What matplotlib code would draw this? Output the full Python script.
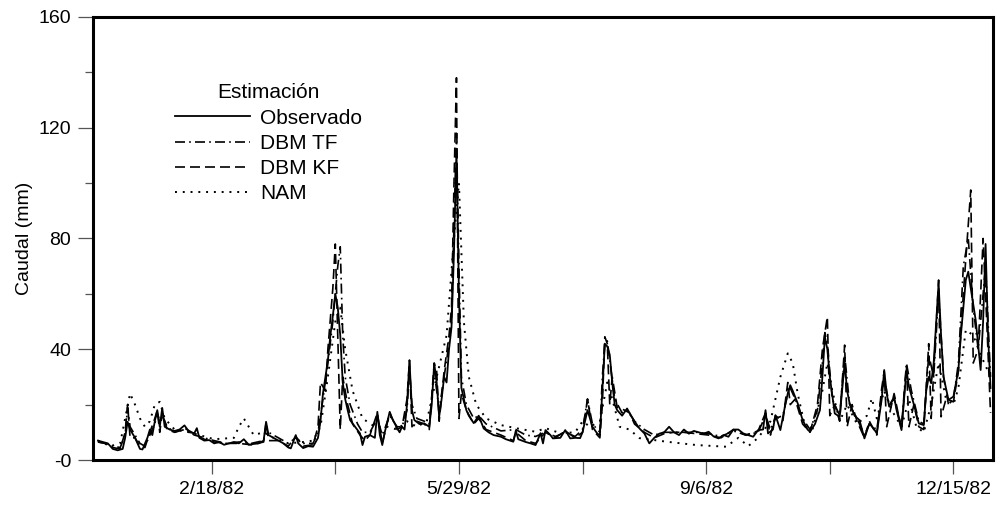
import matplotlib
matplotlib.use("Agg")
import matplotlib.pyplot as plt
import numpy as np
import pandas as pd

plt.rcParams['font.family'] = ['Liberation Sans', 'DejaVu Sans']

# daily discharge (mm), pairs of (day of year 1982, value)
observado = np.array([
    [3, 7], [5, 6.5], [7, 6], [9, 4], [11, 3.5], [13, 4], [14, 8], [15, 13.8], [16, 11], [18, 8],
    [20, 4], [21, 3.8], [23, 8], [24, 11], [25, 9], [26, 14], [27, 18], [28, 12], [29, 18.8], [30, 12],
    [32, 11], [34, 10.5], [36, 11], [38, 12.5], [40, 10], [42, 9.7], [43, 11.5], [44, 8], [46, 7], [48, 7.2],
    [50, 6], [52, 6.5], [54, 5.5], [56, 6], [58, 6.5], [60, 6], [62, 7.5], [64, 5.5], [66, 5.8], [68, 6],
    [70, 7], [71, 13.8], [72, 9], [74, 8], [76, 7], [78, 6], [80, 4.5], [81, 4.2], [83, 9], [84, 6],
    [86, 4.3], [88, 5], [90, 4.8], [92, 8], [93, 14], [94, 24], [95, 30], [96, 36], [97, 45], [98, 52],
    [99, 60], [100, 55], [101, 45], [102, 28], [103, 22], [104, 18], [105, 14.4], [107, 12], [109, 9.6], [110, 5.4],
    [111, 8.4], [113, 9], [115, 8], [116, 17.4], [117, 9], [118, 5.4], [119, 10], [121, 17.4], [122, 15], [124, 11.5],
    [125, 10], [126, 12], [127, 11], [128, 20], [129, 36], [130, 18], [131, 14.4], [133, 13], [135, 13.2], [137, 12],
    [138, 20], [139, 34.9], [140, 28], [141, 15.6], [142, 22], [143, 30], [144, 28], [145, 40], [146, 48], [147, 75],
    [148, 112], [149, 60], [150, 26], [151, 22], [152, 18], [153, 16], [155, 13.3], [157, 16], [159, 11.4], [161, 10],
    [163, 9], [166, 8.4], [168, 7.5], [171, 6.6], [172, 10.6], [173, 7.5], [176, 6.5], [178, 6], [180, 5.4], [182, 9.7],
    [183, 6], [184, 10.8], [186, 9], [187, 7.8], [190, 8], [192, 10.8], [194, 7.8], [196, 8], [198, 7.9], [199, 10],
    [201, 18], [202, 15], [203, 12], [205, 9.5], [206, 9], [207, 25], [208, 42], [209, 41], [210, 38], [211, 28],
    [212, 20], [213, 18], [215, 16], [217, 18.6], [218, 17], [220, 14], [222, 11.4], [224, 9.6], [226, 6], [228, 8],
    [230, 9.5], [232, 10], [234, 12], [236, 10], [238, 9], [240, 11], [242, 9.5], [244, 10.5], [246, 10], [248, 9.5],
    [250, 10.2], [252, 8.5], [254, 7.8], [256, 9], [258, 8.4], [260, 11], [262, 11], [264, 9.6], [266, 9], [268, 8.4],
    [270, 10.8], [272, 11], [273, 18], [274, 9.6], [276, 11], [277, 16.2], [279, 10.8], [281, 20], [282, 24], [283, 27],
    [284, 25], [286, 20.5], [288, 14.4], [290, 11], [291, 10.2], [293, 13], [295, 18], [296, 30], [297, 44.5], [298, 40],
    [299, 30], [301, 16.8], [303, 15.6], [305, 35], [306, 25], [307, 20.5], [309, 16], [311, 14.4], [313, 7.8], [315, 13.2],
    [317, 11], [318, 9.6], [320, 22], [321, 32.5], [322, 24], [323, 19.3], [325, 22.9], [326, 18], [328, 10.8], [330, 32.5],
    [331, 26.5], [333, 20], [335, 13.2], [337, 12.6], [338, 25], [339, 30], [340, 27.7], [341, 35], [343, 63.8], [344, 45],
    [345, 30], [347, 21.7], [349, 22.9], [351, 32.5], [352, 45], [354, 65], [355, 68], [356, 62], [358, 50.5], [360, 32.5],
    [361, 50], [362, 78], [363, 45], [364, 26],
])

dbm_tf = np.array([
    [3, 6.5], [6, 6], [9, 5], [12, 4.5], [14, 9], [15, 19], [16, 12], [18, 9], [20, 6], [22, 5],
    [24, 9], [26, 13], [27, 17], [28, 14], [29, 16], [31, 12], [34, 10], [38, 11], [42, 9], [46, 8],
    [50, 7], [55, 6], [60, 6.5], [65, 6], [70, 7], [71, 12], [72, 10], [76, 8], [80, 6], [83, 8],
    [86, 6], [90, 6], [92, 10], [94, 22], [96, 35], [98, 50], [99, 60], [100, 70], [101, 77], [102, 45],
    [103, 30], [105, 20], [108, 13], [110, 10], [113, 10], [116, 15], [118, 9], [121, 16], [124, 12], [126, 12],
    [128, 18], [129, 33], [130, 20], [132, 15], [135, 14], [137, 13], [139, 32], [141, 18], [143, 30], [145, 42],
    [146, 50], [147, 85], [148, 118], [149, 70], [150, 30], [152, 20], [155, 15], [157, 16], [160, 13], [166, 10.5],
    [172, 11], [176, 9], [180, 8.5], [184, 10], [188, 8.5], [192, 10], [196, 8.5], [199, 11], [201, 22], [203, 13],
    [206, 10], [207, 30], [208, 42], [209, 43], [210, 36], [212, 22], [215, 17], [217, 18], [220, 14], [224, 11],
    [228, 9], [232, 10], [236, 10], [240, 10], [245, 10], [250, 9.5], [255, 8.5], [260, 10.5], [265, 9], [270, 10],
    [273, 16], [275, 11], [277, 15], [280, 16], [282, 24], [283, 26], [285, 22], [288, 15], [291, 11], [294, 18],
    [296, 35], [297, 46], [298, 42], [300, 22], [303, 16], [305, 38], [307, 20], [310, 15], [313, 9], [315, 13],
    [318, 11], [321, 30], [323, 20], [325, 22], [328, 12], [330, 35], [332, 25], [335, 14], [337, 13], [339, 38],
    [341, 30], [343, 60], [345, 30], [347, 20], [349, 22], [351, 35], [353, 70], [355, 80], [357, 55], [359, 40],
    [361, 60], [362, 70], [364, 30],
])

dbm_kf = np.array([
    [3, 6.5], [6, 6], [9, 4.5], [12, 4], [14, 10], [15, 20], [16, 8], [18, 8], [20, 5], [22, 4.5],
    [24, 10], [26, 15], [27, 18], [28, 10], [29, 17], [31, 11], [34, 10], [38, 11.5], [42, 9.5], [46, 7.5],
    [50, 6.5], [55, 6], [60, 6], [65, 5.5], [70, 6.5], [71, 13.5], [72, 7], [76, 7], [80, 5], [83, 8.5],
    [86, 5], [90, 5.5], [92, 12], [93, 28], [95, 25], [96, 40], [98, 62], [99, 78], [100, 45], [101, 11],
    [102, 30], [104, 20], [106, 13], [109, 9], [111, 7], [113, 9], [116, 17], [118, 6], [121, 17], [124, 11],
    [126, 12], [128, 22], [129, 36], [130, 12], [132, 14], [135, 13], [137, 11], [139, 35], [140, 32], [141, 14],
    [143, 32], [145, 45], [146, 55], [147, 100], [148, 138], [149, 15], [150, 24], [152, 18], [155, 13], [157, 15],
    [160, 11], [166, 9], [171, 7], [172, 10], [176, 7], [180, 6], [184, 10], [188, 8], [192, 10.5], [196, 8],
    [199, 10], [201, 22], [203, 11], [206, 8], [207, 20], [208, 44.5], [209, 42], [210, 20], [211, 30], [213, 19],
    [216, 18], [218, 17], [220, 13], [224, 10], [228, 8], [232, 9.5], [236, 10], [240, 10], [245, 9.5], [250, 9],
    [255, 8], [260, 11], [265, 9], [270, 10.5], [273, 17], [275, 9], [277, 16], [280, 14], [282, 28], [283, 20],
    [285, 22], [288, 13], [291, 10], [294, 20], [296, 40], [298, 51.7], [299, 16], [301, 20], [303, 14], [305, 41.5],
    [306, 12], [308, 20], [310, 14], [313, 8], [315, 14], [318, 9], [320, 26], [321, 32], [322, 12], [325, 24],
    [328, 11], [330, 34], [331, 12], [333, 20], [335, 12], [337, 11], [339, 42], [340, 15], [343, 65], [344, 15.6],
    [346, 22], [349, 21], [351, 32], [353, 60], [355, 85], [356, 97.5], [357, 35], [359, 40], [361, 80], [362, 60],
    [364, 17],
])

nam = np.array([
    [3, 7], [8, 5], [12, 6], [14, 15], [16, 24], [18, 20], [20, 15], [22, 12], [24, 14], [26, 20],
    [28, 21], [30, 15], [34, 11], [40, 10], [50, 7.5], [58, 8], [60, 12], [62, 15], [64, 12], [66, 9],
    [70, 10], [74, 8], [80, 6], [86, 6.5], [90, 7], [93, 12], [96, 30], [99, 50], [101, 55], [103, 40],
    [106, 25], [110, 15], [115, 12], [120, 12], [124, 11], [128, 14], [132, 12], [136, 14], [140, 30], [144, 45],
    [147, 80], [149, 100], [151, 50], [153, 30], [156, 20], [160, 15], [166, 12.6], [172, 11.5], [180, 10.2], [184, 11.5],
    [190, 9.7], [196, 10], [199, 14], [202, 12], [206, 14], [209, 28], [211, 22], [214, 12], [218, 11], [222, 7.9],
    [233, 6.6], [245, 5.4], [257, 4.8], [262, 8], [266, 5], [270, 8], [275, 14], [279, 30], [282, 38.5], [284, 35],
    [286, 24], [289, 12], [292, 11], [296, 25], [298, 35], [300, 25], [303, 14], [306, 20], [310, 13], [314, 16],
    [316, 22.3], [318, 15], [321, 25], [324, 18], [328, 12], [331, 22], [334, 12], [337, 10], [340, 20], [343, 35],
    [346, 22], [349, 20], [351, 26], [354, 47], [357, 45], [360, 38], [364, 30],
])

series_names = ['Observado', 'DBM TF', 'DBM KF', 'NAM']
tick_dates = pd.date_range('1982-02-18', periods=7, freq='50D')
y_ticks = [0, 40, 80, 120, 160]
y_labels = ['-0', '40', '80', '120', '160']


def to_dates(days):
    return pd.Timestamp('1981-12-31') + pd.to_timedelta(days, unit='D')


fig = plt.figure(figsize=(10, 5.07), dpi=100)
ax = fig.add_axes([0.093, 0.0927, 0.9, 0.874])

styles = [
    dict(ls='-', lw=1.3, zorder=5),
    dict(ls=(0, (6, 2.5, 1, 2.5)), lw=1.2, zorder=4),
    dict(ls=(0, (6, 3)), lw=1.2, zorder=3),
    dict(ls=(0, (1, 3)), lw=1.4, zorder=2),
]
for data, name, st in zip([observado, dbm_tf, dbm_kf, nam], series_names, styles):
    ax.plot(to_dates(data[:, 0]), data[:, 1], color='black', label=name, **st)

ax.set_xlim(pd.Timestamp('1982-01-01'), pd.Timestamp('1982-12-31'))
ax.set_ylim(0, 160)

ax.set_xticks(tick_dates)
ax.set_xticklabels([f'{d.month}/{d.day}/{d:%y}' if i % 2 == 0 else ''
                    for i, d in enumerate(tick_dates)])
ax.set_yticks(y_ticks)
ax.set_yticklabels(y_labels)
ax.set_yticks([20, 60, 100, 140], minor=True)

ax.tick_params(axis='x', direction='out', length=10, width=0.9, color='#555555',
               labelsize=14, pad=5)
ax.tick_params(axis='y', which='major', direction='out', length=10.8, width=0.9,
               color='#555555', labelsize=14, pad=5)
ax.tick_params(axis='y', which='minor', direction='out', length=5.8, width=0.9,
               color='#555555')

for sp in ax.spines.values():
    sp.set_linewidth(2.2)

ax.set_ylabel('Caudal (mm)', fontsize=14, labelpad=4)

leg = ax.legend(loc='upper left', bbox_to_anchor=(0.091, 0.85), frameon=False,
                title='Estimación', fontsize=15, title_fontsize=15,
                handlelength=3.6, handletextpad=0.5, labelspacing=0.3,
                borderpad=0, borderaxespad=0)

fig.savefig('out.png', dpi=100)
